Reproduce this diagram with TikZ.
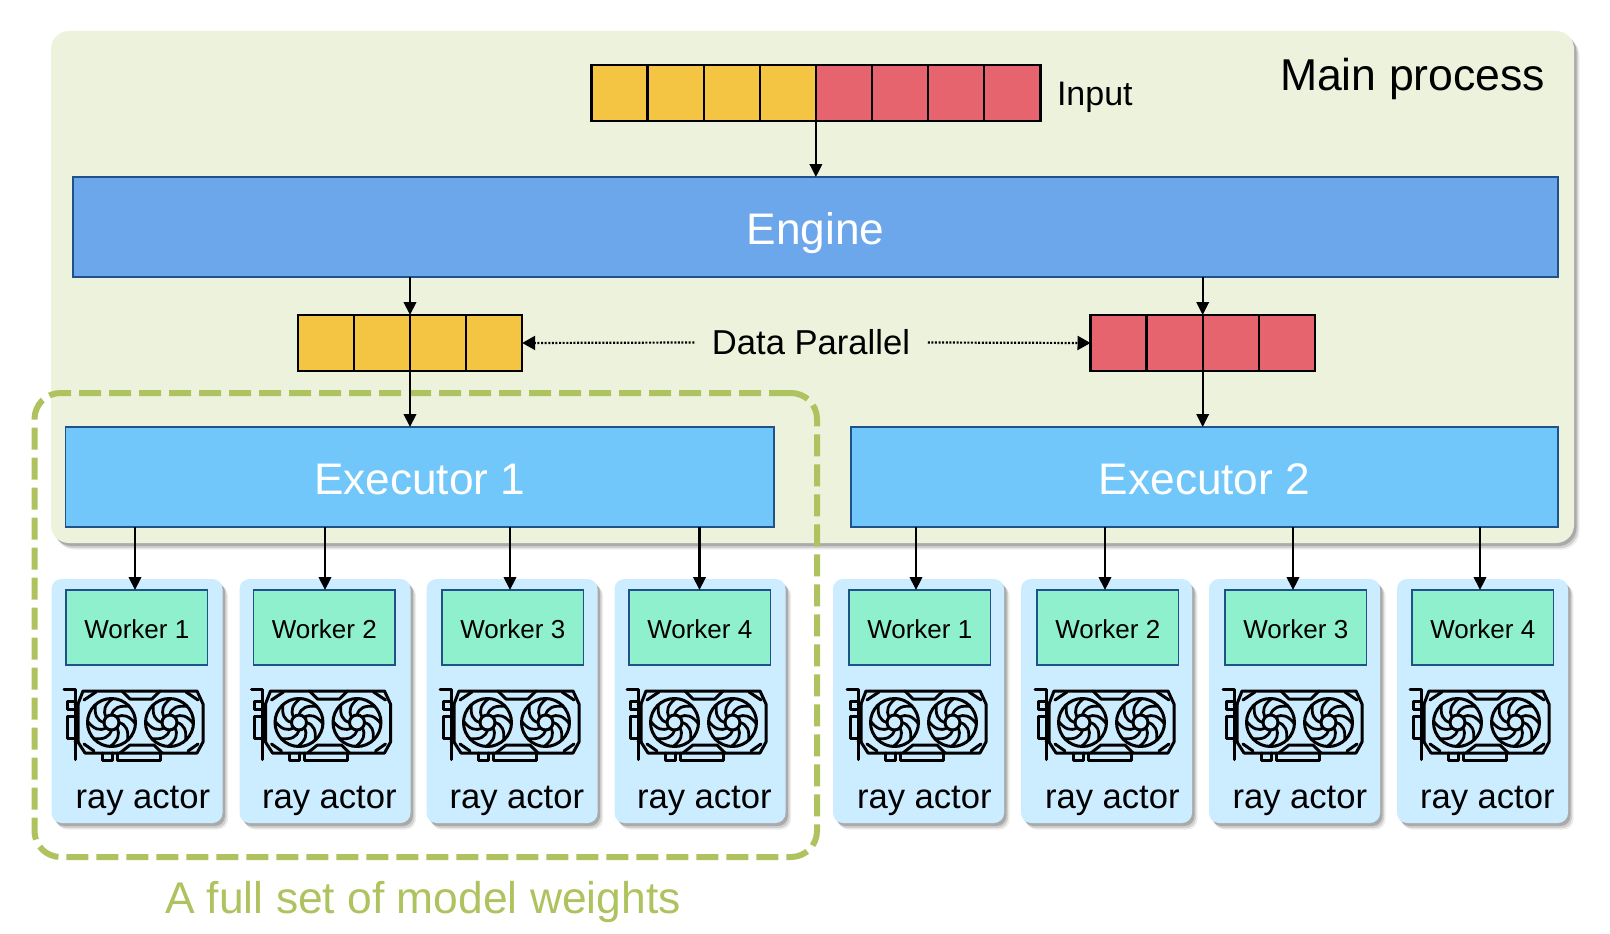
\documentclass[tikz,border=0pt]{standalone}
\usepackage{fontspec}
\setmainfont{Liberation Sans}
\usetikzlibrary{arrows.meta}
\definecolor{mainbg}{HTML}{EDF2DD}
\definecolor{enginec}{HTML}{6DA7EB}
\definecolor{execc}{HTML}{72C7FA}
\definecolor{workerc}{HTML}{8FF0CD}
\definecolor{cardc}{HTML}{CCECFF}
\definecolor{edgeblue}{HTML}{1F5288}
\definecolor{yellowc}{HTML}{F4C542}
\definecolor{redc}{HTML}{E5646D}
\definecolor{greenc}{HTML}{AEC25F}
\newcommand{\fsz}[1]{\fontsize{#1}{#1}\selectfont}
\tikzset{
  softshadow/.style={
    preaction={fill=black,opacity=.07,transform canvas={shift={(5.5pt,-6.5pt)}}},
    preaction={fill=black,opacity=.12,transform canvas={shift={(4pt,-5pt)}}},
    preaction={fill=black,opacity=.18,transform canvas={shift={(2.5pt,-3pt)}}}},
  box/.style={rectangle,anchor=north west,inner sep=0pt,outer sep=0pt},
  mainbox/.style={box,fill=mainbg,rounded corners=18pt,minimum width=1523pt,minimum height=512pt,softshadow},
  cardbox/.style={box,fill=cardc,rounded corners=10pt,minimum width=171pt,minimum height=244pt,softshadow},
  bigbox/.style={box,draw=edgeblue,line width=1.6pt,text=white,minimum height=100pt,text height=34pt,text depth=0pt,font=\fsz{44.2}},
  workerbox/.style={box,draw=edgeblue,fill=workerc,line width=1.6pt,minimum width=141.5pt,minimum height=75pt,text height=22pt,text depth=0pt,font=\fsz{26}},
  cell/.style={box,draw=black,line width=2.4pt,minimum width=56.1pt,minimum height=56pt},
  txt/.style={anchor=base west,inner sep=0pt,outer sep=0pt},
  conn/.style={draw=black,line width=2.1pt,-{Triangle[length=13pt,width=12.5pt]}},
  dotconn/.style={draw=black,line width=2.2pt,dash pattern=on 2pt off 1.6pt,-{Triangle[length=13pt,width=14pt]}},
  gpu/.pic={
    \begin{scope}[line width=3pt,line cap=round,line join=round]
      % bracket and tabs
      \draw (0,0.5) -- (11,0.5) -- (11,70.5);
      \draw (11,12) -- (3,12) -- (3,20) -- (11,20);
      \draw (11,27) -- (3,27) -- (3,49) -- (11,49);
      % card body
      \draw (19,2) -- (133,2) -- (139,15) -- (139,53) -- (133,64) -- (21,64) -- (14,53) -- (14,15) -- cycle;
      \draw (14,15) -- (11,15) (14,52) -- (11,52);
      % top and bottom trim
      \draw (58,2) -- (66,10) -- (88,10) -- (96,2);
      \draw (56,64) -- (66,56) -- (90,56) -- (98,64);
      \draw (20,11) -- (32,3) (134,11) -- (122,3);
      \draw (20,55) -- (30,62) (134,55) -- (124,62);
      % lower connectors
      \draw (38,64) -- (38,71) -- (48,71) -- (48,64);
      \draw (53,64) -- (53,71) -- (96,71) -- (96,64);
      % fans
      \foreach \fx in {47.5,105.5}{
        \begin{scope}[shift={(\fx,33.5)}]
          \draw circle[radius=24];
          \draw circle[radius=7.5];
          \foreach \a in {0,45,...,315}{
            \draw[line width=2.8pt] (\a:7.5) .. controls (\a+8:15) and (\a+25:19) .. (\a+48:24);
          }
        \end{scope}
      }
    \end{scope}
  }
}
\begin{document}
\begin{tikzpicture}[x=1pt,y=-1pt]
\useasboundingbox (0,0) rectangle (1610,934);

\node[mainbox] (main) at (51,31) {};
\node[txt,font=\fsz{44.6}] (maintxt) at (1280,91) {Main process};

% dashed group
\node[box,draw=greenc,line width=6pt,dash pattern=on 22pt off 8pt,rounded corners=26pt,minimum width=782.5pt,minimum height=464pt] (fullset) at (34.5,393) {};
\node[txt,font=\fsz{44.4},text=greenc] (fulltxt) at (165,913) {A full set of model weights};

% input
\foreach \i in {1,...,4}{
  \node[cell,fill=yellowc] (i\i) at ({591.5+(\i-1)*56.1},65) {};
  \node[cell,fill=redc] (j\i) at ({815.9+(\i-1)*56.1},65) {};
  \node[cell,fill=yellowc] (y\i) at ({297.8+(\i-1)*56.1},315) {};
  \node[cell,fill=redc] (r\i) at ({1090.5+(\i-1)*56.1},315) {};
}
\node[txt,font=\fsz{34}] (inputtxt) at (1057,106) {Input};

\node[bigbox,fill=enginec,minimum width=1485pt] (engine) at (73,177) {Engine};
\node[bigbox,fill=execc,minimum width=708.5pt] (ex1) at (65.5,427) {Executor 1};
\node[bigbox,fill=execc,minimum width=707pt] (ex2) at (851,427) {Executor 2};

\node[anchor=center,inner xsep=17.5pt,inner ysep=4pt,font=\fsz{34.6}] (dp) at (811,342.5) {Data Parallel};

\draw[conn] (i4.south east) -- (i4.south east |- engine.north);
\draw[conn] (y2.north east |- engine.south) -- (y2.north east);
\draw[conn] (r2.north east |- engine.south) -- (r2.north east);
\draw[conn] (y2.south east) -- (y2.south east |- ex1.north);
\draw[conn] (r2.south east) -- (r2.south east |- ex2.north);
\draw[dotconn] (dp.west) -- (y4.east);
\draw[dotconn] (dp.east) -- (r1.west);

% ray actors
\foreach \n/\cx/\wx/\ax/\tx/\lbl/\ex in {
  1/51.5/66/135/75.5/1/ex1, 2/239.5/253.5/325/262/2/ex1, 3/426.5/442/510/449.5/3/ex1, 4/614.5/629/699.5/637/4/ex1,
  5/833/849/916/857/1/ex2, 6/1021/1037/1105/1045/2/ex2, 7/1209/1225/1293/1232.5/3/ex2, 8/1397/1412/1480/1420/4/ex2}{
  \node[cardbox] (c\n) at (\cx,579) {};
  \node[workerbox] (w\n) at (\wx,590) {Worker \lbl};
  \pic at ({\wx-2},689) {gpu};
  \node[txt,font=\fsz{34.6}] (t\n) at (\tx,808) {ray actor};
  \coordinate (a\n) at (\ax,590);
  \draw[conn] (\ex.south -| a\n) -- (a\n);
}
\end{tikzpicture}
\end{document}
